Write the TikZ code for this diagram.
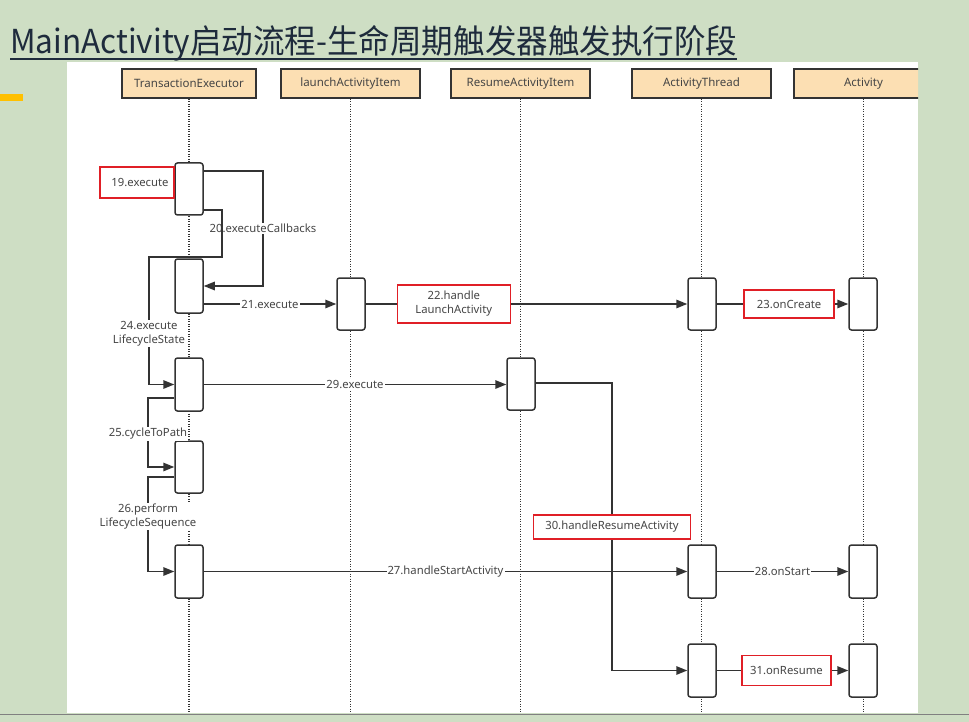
\documentclass[tikz,border=0pt]{standalone}
\usepackage{fontspec}
\usepackage{graphicx}
\setmainfont{Noto Sans}
\newfontfamily\cjk{Noto Sans CJK SC}
\usetikzlibrary{arrows.meta,calc}
\definecolor{bgc}{HTML}{CEDEC4}
\definecolor{titlec}{HTML}{1E2B3C}
\definecolor{hdrc}{HTML}{FCDFB3}
\definecolor{linec}{HTML}{333333}
\definecolor{txtc}{HTML}{454545}
\definecolor{redc}{HTML}{E01F26}
\definecolor{yellowbar}{HTML}{FFC000}
\tikzset{
  hdr/.style={draw=linec, line width=1.2pt, fill=hdrc, minimum width=139pt, minimum height=29pt, inner sep=0pt, font=\fontsize{11.5}{13}\selectfont, text=txtc},
  life/.style={draw=linec, line width=1.4pt, dash pattern=on 1.3pt off 1.2pt},
  act/.style={draw=linec, line width=1.5pt, fill=white, rounded corners=2.5pt, minimum width=28pt, inner sep=0pt},
  msg/.style={draw=linec, line width=1.5pt, -{Triangle[length=11pt,width=8.5pt]}},
  lbl/.style={fill=white, inner sep=1pt, font=\fontsize{11.3}{14}\selectfont, text=txtc, align=center},
  rlbl/.style={lbl, draw=redc, line width=1.6pt, inner sep=0pt}
}
\begin{document}
\begin{tikzpicture}[x=1pt,y=-1pt]
\useasboundingbox (0,0) rectangle (969,722);
\fill[bgc] (0,0) rectangle (969,722);
\fill[white] (67,62) rectangle (918,713);
\draw[gray, line width=1.2pt] (0,714.5) -- (969,714.5);
\fill[yellowbar] (0,94) rectangle (23,101.5);
% title
\node[anchor=base west, text=titlec, inner sep=0pt] (title) at (10,54)
  {\resizebox{727pt}{\height}{\cjk\fontsize{33}{36}\selectfont MainActivity启动流程-生命周期触发器触发执行阶段}};
\draw[titlec, line width=2pt] (10,59.5) -- (737,59.5);
% headers
\begin{scope}
\clip (67,62) rectangle (918,713);
\node[hdr, minimum width=134pt] (hTE) at (189,83.5) {TransactionExecutor};
\node[hdr] (hLA) at (350.5,83.5) {launchActivityItem};
\node[hdr] (hRA) at (520.5,83.5) {ResumeActivityItem};
\node[hdr] (hAT) at (701.5,83.5) {ActivityThread};
\node[hdr] (hAC) at (863.5,83.5) {Activity};
\end{scope}
% lifeline ends
\coordinate (eTE) at (189,713);
\coordinate (eLA) at (350.5,713);
\coordinate (eRA) at (520.5,713);
\coordinate (eAT) at (701.5,713);
\coordinate (eAC) at (863.5,713);
\draw[life] (hTE.south) -- (eTE);
\draw[life] (hLA.south) -- (eLA);
\draw[life] (hRA.south) -- (eRA);
\draw[life] (hAT.south) -- (eAT);
\draw[life] (hAC.south) -- (eAC);
% activations
\node[act, minimum height=52pt] (te1) at (189,189) {};
\node[act, minimum height=54pt] (te2) at (189,286) {};
\node[act, minimum height=53pt] (te3) at (189,384.5) {};
\node[act, minimum height=52pt] (te4) at (189,467) {};
\node[act, minimum height=53pt] (te5) at (189,571.5) {};
\node[act, minimum height=52pt] (la1) at (351,304) {};
\node[act, minimum height=52pt] (ra1) at (521,384) {};
\node[act, minimum height=52pt] (at1) at (702,304) {};
\node[act, minimum height=53pt] (at2) at (702,571.5) {};
\node[act, minimum height=53pt] (at3) at (702,670.5) {};
\node[act, minimum height=52pt] (ac1) at (863,304) {};
\node[act, minimum height=53pt] (ac2) at (863,571.5) {};
\node[act, minimum height=53pt] (ac3) at (863,670.5) {};
% 19
\node[rlbl, minimum width=74pt, minimum height=31pt] (l19) at (137,182.5) {\hspace*{6pt}19.execute};
% 20
\coordinate (b20) at (263,171);
\draw[msg] (te1.east |- b20) -- (b20) -- node[lbl, pos=0.5]{20.executeCallbacks} (b20 |- te2.east) -- (te2.east);
% 24
\coordinate (b24a) at (222,210);
\coordinate (b24b) at (222,257);
\coordinate (b24c) at (149,257);
\draw[msg] (te1.east |- b24a) -- (b24a) -- (b24b) -- (b24c) -- node[lbl, pos=0.6]{24.execute\\LifecycleState} (b24c |- te3.west) -- (te3.west);
% 25
\coordinate (b25) at (148,398);
\draw[msg] (te3.west |- b25) -- (b25) -- node[lbl, pos=0.52]{25.cycleToPath} (b25 |- te4.west) -- (te4.west);
% 26
\coordinate (b26) at (148,477);
\draw[msg] (te4.west |- b26) -- (b26) -- node[lbl, pos=0.42]{26.perform\\LifecycleSequence} (b26 |- te5.west) -- (te5.west);
% 21
\draw[msg] (te2.east |- la1.west) -- node[lbl]{21.execute} (la1.west);
% 22
\draw[msg] (la1.east) -- node[rlbl, pos=0.274, minimum width=113pt, minimum height=38pt]{22.handle\\LaunchActivity} (at1.west);
% 23
\draw[msg] (at1.east) -- node[rlbl, pos=0.55, minimum width=90pt, minimum height=28pt]{23.onCreate} (ac1.west);
% 29
\draw[msg] (te3.east) -- node[lbl]{29.execute} (te3.east -| ra1.west);
% 30
\coordinate (b30) at (612,383);
\draw[msg] (ra1.east |- b30) -- (b30) -- node[rlbl, pos=0.5, minimum width=157pt, minimum height=24pt]{30.handleResumeActivity} (b30 |- at3.west) -- (at3.west);
% 27
\draw[msg] (te5.east) -- node[lbl]{27.handleStartActivity} (at2.west);
% 28
\draw[msg] (at2.east) -- node[lbl]{28.onStart} (ac2.west);
% 31
\draw[msg] (at3.east) -- node[rlbl, pos=0.53, minimum width=89pt, minimum height=30pt]{31.onResume} (ac3.west);
\end{tikzpicture}
\end{document}
